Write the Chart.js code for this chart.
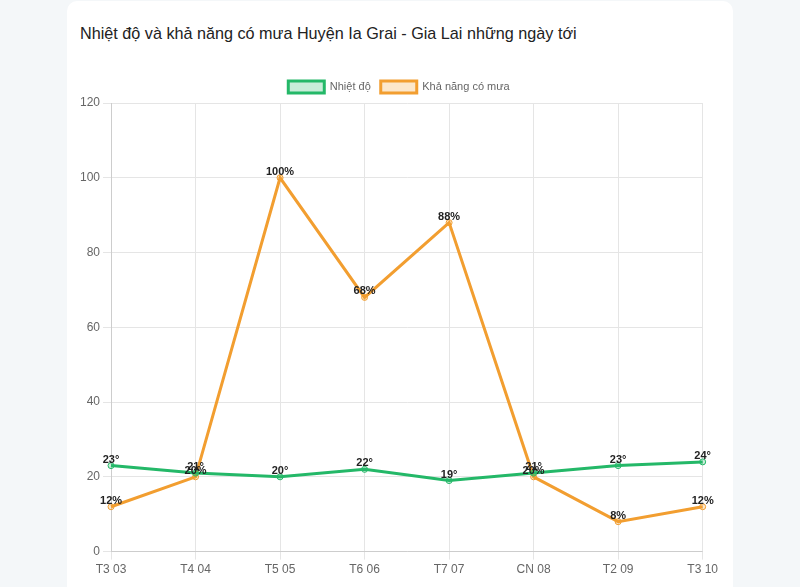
<!DOCTYPE html>
<html><head><meta charset="utf-8">
<script src="https://cdn.jsdelivr.net/npm/chart.js@4"></script>
<style>
html,body{margin:0;padding:0;background:#f4f7f9;width:800px;height:587px;overflow:hidden;font-family:"Liberation Sans",Arial,sans-serif;}
#card{position:absolute;left:67px;top:1px;width:666px;height:620px;background:#fff;border-radius:10px;}
#title{position:absolute;left:13px;top:23px;font-size:16.2px;color:#222;margin:0;font-weight:normal;}
#wrap{position:absolute;left:10px;top:70px;width:644px;height:509px;}
</style></head><body>
<div id="card"><h3 id="title">Nhiệt độ và khả năng có mưa Huyện Ia Grai - Gia Lai những ngày tới</h3>
<div id="wrap"><canvas id="c"></canvas></div></div>
<script>
const labels = ["T3 03","T4 04","T5 05","T6 06","T7 07","CN 08","T2 09","T3 10"];
const temperature = [23,21,20,22,19,21,23,24];
const rainChance = [12,20,100,68,88,20,8,12];
const yTicks = {min:0,max:120,step:20};

const green = "rgb(36,184,104)", greenFill = "rgba(36,184,104,0.25)";
const orange = "rgb(242,158,48)", orangeFill = "rgba(242,158,48,0.25)";

const labelPlugin = {
  id:'pointLabels',
  afterDatasetsDraw(chart){
    const ctx = chart.ctx;
    ctx.save();
    ctx.font = "bold 11px 'Liberation Sans', Arial, sans-serif";
    ctx.fillStyle = "#222";
    ctx.textAlign = "center";
    ctx.textBaseline = "alphabetic";
    chart.data.datasets.forEach((ds,i)=>{
      const meta = chart.getDatasetMeta(i);
      meta.data.forEach((pt,j)=>{
        ctx.fillText(ds.data[j] + ds.suffix, pt.x, pt.y - 3);
      });
    });
    ctx.restore();
  }
};

Chart.defaults.font.family = "'Liberation Sans', Arial, sans-serif";
Chart.defaults.font.size = 12;
Chart.defaults.color = "#666";

new Chart(document.getElementById('c'),{
  type:'line',
  data:{labels,datasets:[
    {label:'Nhiệt độ',data:temperature,suffix:'°',borderColor:green,backgroundColor:greenFill,borderWidth:3,pointRadius:3,pointBorderWidth:1,tension:0},
    {label:'Khả năng có mưa',data:rainChance,suffix:'%',borderColor:orange,backgroundColor:orangeFill,borderWidth:3,pointRadius:3,pointBorderWidth:1,tension:0}
  ]},
  options:{
    responsive:true,maintainAspectRatio:false,animation:false,
    layout:{padding:{left:0,right:0,top:0,bottom:0}},
    plugins:{legend:{position:'top',labels:{boxWidth:36,boxHeight:12,font:{size:11}}},tooltip:{enabled:false}},
    scales:{
      x:{grid:{color:'#e5e5e5'},ticks:{color:'#666'}},
      y:{min:yTicks.min,max:yTicks.max,ticks:{stepSize:yTicks.step,color:'#666'},grid:{color:'#e5e5e5'}}
    }
  },
  plugins:[labelPlugin]
});
</script>
</body></html>
